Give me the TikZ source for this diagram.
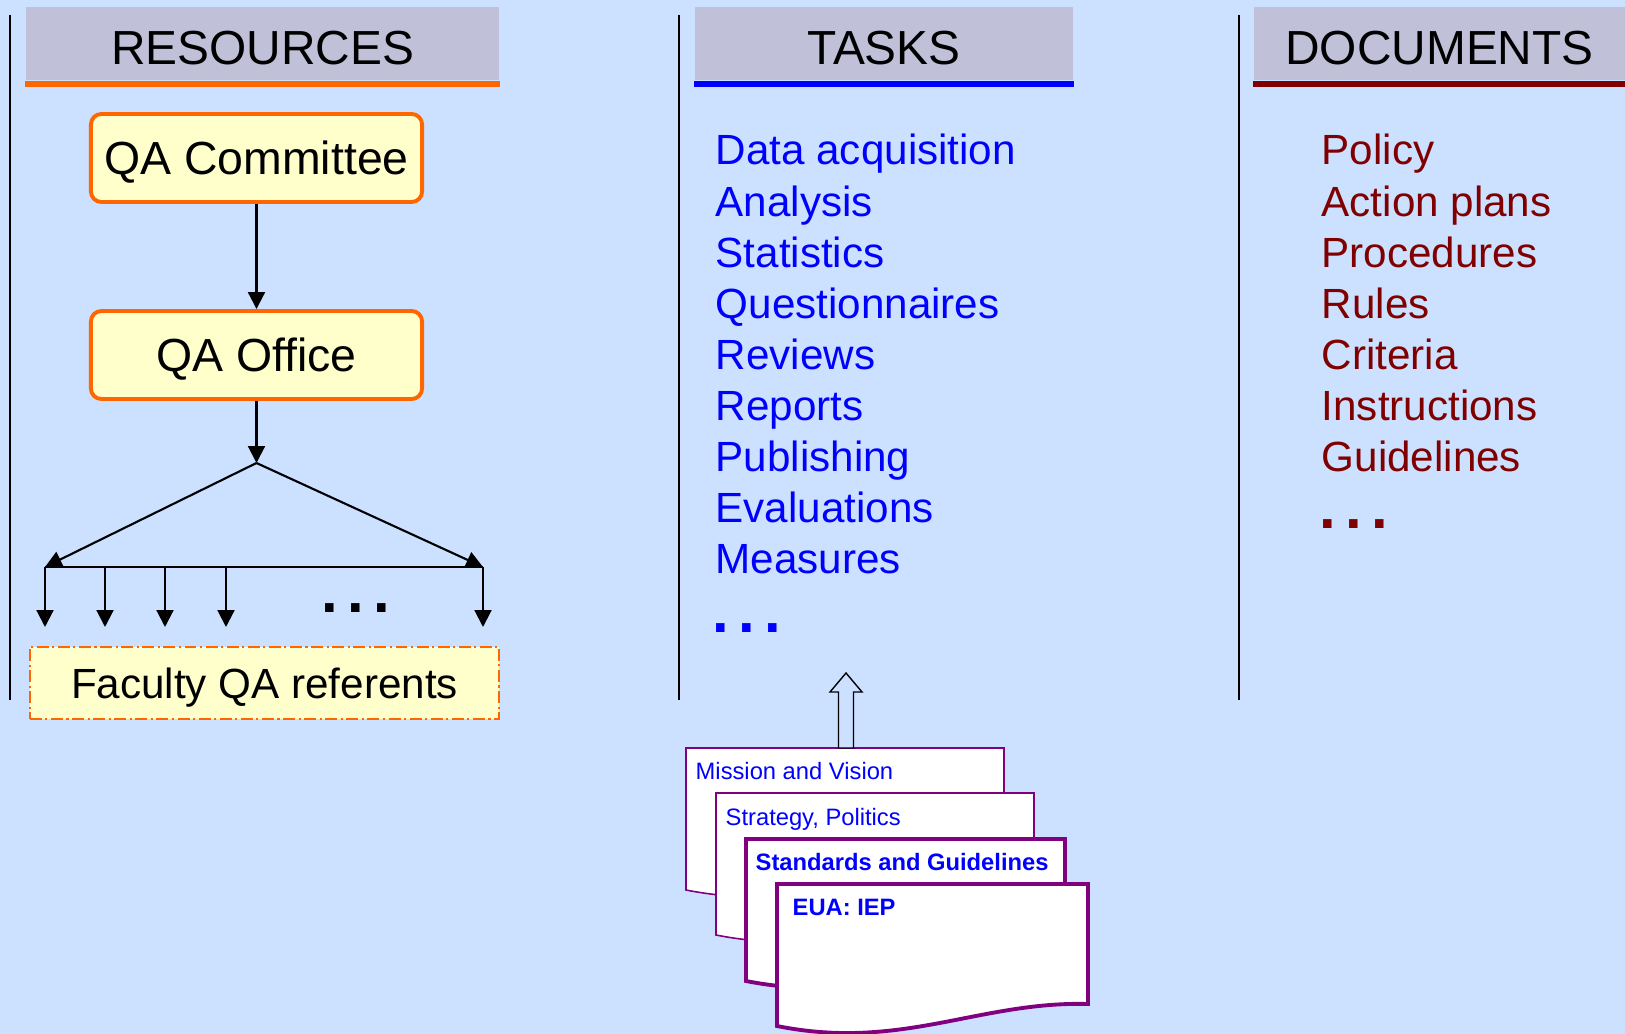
\documentclass[tikz,border=0pt]{standalone}
\usepackage{fontspec}
\setmainfont{Liberation Sans}
\usetikzlibrary{arrows.meta}

\definecolor{bgblue}{HTML}{CCE0FF}
\definecolor{hdgray}{HTML}{C0C0D8}
\definecolor{qaorange}{HTML}{FF6600}
\definecolor{qayellow}{HTML}{FFFFCC}
\definecolor{docred}{HTML}{800000}
\definecolor{docpurple}{HTML}{800080}
\newcommand\tridots{\bfseries .\hspace{2.6pt}.\hspace{2.6pt}.}

\begin{document}
\begin{tikzpicture}
  [x=0.01cm,y=-0.01cm,every node/.style={inner sep=0pt},
   hdr/.style={fill=hdgray,minimum height=0.73cm,text height=12pt,text depth=0pt,
     font=\fontsize{13.6}{16}\selectfont},
   qabox/.style={draw=qaorange,line width=1.1pt,fill=qayellow,rounded corners=3pt,
     minimum width=3.31cm,minimum height=0.88cm,text depth=0pt,font=\fontsize{13.2}{16}\selectfont},
   facbox/.style={draw=qaorange,line width=0.45pt,fill=qayellow,
     dash pattern=on 3.4pt off 1pt on 0.6pt off 1pt,minimum width=4.69cm,minimum height=0.72cm,
     text depth=0pt,font=\fontsize{12}{14}\selectfont},
   divider/.style={line width=0.6pt},
   arr/.style={line width=0.6pt,-{Triangle[length=4.8pt,width=4.8pt]}},
   task/.style={anchor=base west,text=blue,font=\fontsize{12}{14}\selectfont},
   docitem/.style={anchor=base west,text=docred,font=\fontsize{12}{14}\selectfont},
   sheet/.style={draw=docpurple,fill=white},
   sheettext/.style={anchor=base west,text=blue,font=\fontsize{6.75}{8}\selectfont}]
  \fill[bgblue] (0,0) rectangle (1625,1034);
  \useasboundingbox (0,0) rectangle (1625,1034);

  \foreach \x in {10,679,1239}
    \draw[divider] (\x,15) -- (\x,700);

  \node[hdr,minimum width=4.73cm] (hres) at (262.5,43.5) {RESOURCES};
  \node[hdr,minimum width=3.78cm] (htask) at (884,43.5) {TASKS};
  \node[hdr,minimum width=3.71cm] (hdoc) at (1439.5,43.5) {DOCUMENTS};
  \fill[qaorange] (hres.south west) rectangle ([yshift=-0.06cm]hres.south east);
  \fill[blue] (htask.south west) rectangle ([yshift=-0.06cm]htask.south east);
  \fill[docred] (hdoc.south west) rectangle ([yshift=-0.06cm]hdoc.south east);

  \node[qabox] (qacom) at (256.5,158) {QA Committee};
  \node[qabox] (qaoff) at (256.5,355) {QA Office};
  \node[facbox] (fac) at (264.5,683) {Faculty QA referents};

  \coordinate (fork) at (256.5,463);
  \coordinate (bl) at (45,567);
  \coordinate (br) at (483,567);
  \draw[arr] (qacom) -- (qaoff);
  \draw[arr] (qaoff) -- (fork);
  \draw[arr] (fork) -- (bl);
  \draw[arr] (fork) -- (br);
  \draw[line width=0.6pt] (bl) -- (br);
  \foreach \x [count=\i] in {45,105,165,226,483} {
    \coordinate (top\i) at (\x,567);
    \coordinate (ref\i) at (\x,627);
    \draw[arr] (top\i) -- (ref\i);
  }
  \node[anchor=base west,font=\fontsize{17}{20}\selectfont] (rdots) at (321,612) {\tridots};

  \foreach \t [count=\i] in {Data acquisition,Analysis,Statistics,Questionnaires,Reviews,
      Reports,Publishing,Evaluations,Measures}
    \node[task] (task\i) at (715,{165+51.1*(\i-1)}) {\t};
  \node[task,font=\fontsize{17}{20}\selectfont] (taskdots) at (712,632) {\tridots};

  \foreach \t [count=\i] in {Policy,Action plans,Procedures,Rules,Criteria,Instructions,Guidelines}
    \node[docitem] (doc\i) at (1321,{165+51.1*(\i-1)}) {\t};
  \node[docitem,font=\fontsize{17}{20}\selectfont] (docdots) at (1319,528) {\tridots};

  \foreach \x/\y/\w/\lw in {686/748/318/0.45pt,716/793/318/0.45pt,746/839/319/1.1pt,777/884/311/1.1pt}
    \draw[sheet,line width=\lw] (\x,\y) -- (\x+\w,\y) -- (\x+\w,\y+120)
      .. controls (\x+0.65*\w,\y+117) and (\x+0.4*\w,\y+167) .. (\x,\y+142) -- cycle;
  \node[sheettext] (sh1) at (695,779) {Mission and Vision};
  \node[sheettext] (sh2) at (725,825) {Strategy, Politics};
  \node[sheettext,font=\bfseries\fontsize{6.75}{8}\selectfont] (sh3) at (755,870) {Standards and Guidelines};
  \node[sheettext,font=\bfseries\fontsize{6.75}{8}\selectfont] (sh4) at (792,915) {EUA: IEP};

  \coordinate (up) at (846,748);
  \draw[fill=bgblue,line width=0.4pt] (up) -- (838.5,748) -- (838.5,692) -- (830,692) -- (846,673)
    -- (862,692) -- (853.5,692) -- (853.5,748) -- cycle;
\end{tikzpicture}
\end{document}
